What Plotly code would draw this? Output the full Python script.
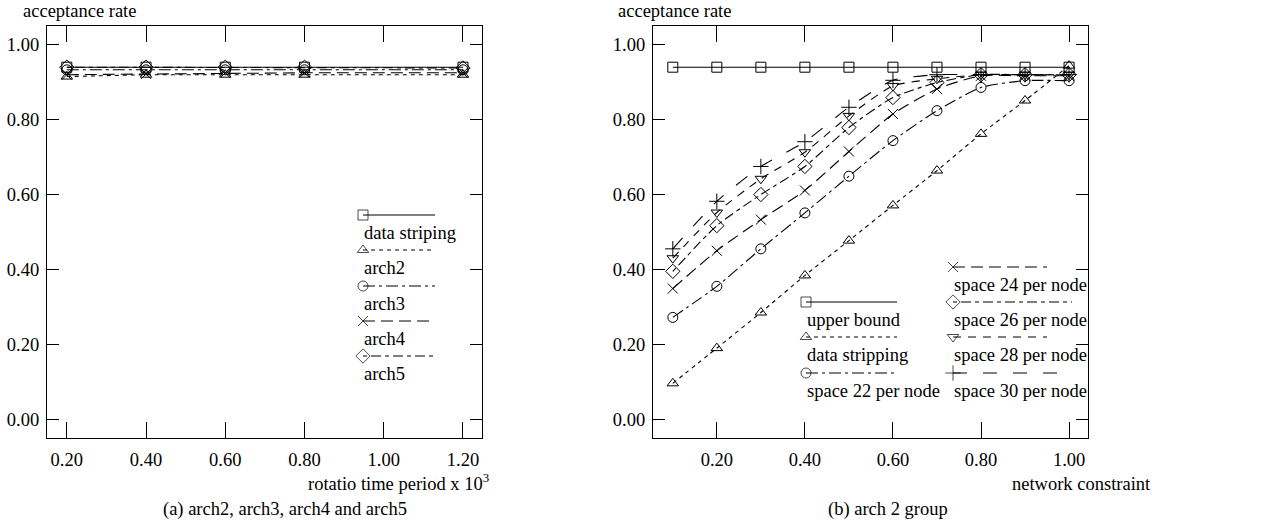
import plotly.graph_objects as go

# ---------------- data ----------------
# panel (a)
a_x = [0.2, 0.4, 0.6, 0.8, 1.2]
a_names = ["data striping", "arch2", "arch3", "arch4", "arch5"]
a_data_striping = [0.940, 0.940, 0.940, 0.940, 0.940]
a_arch2 = [0.915, 0.920, 0.920, 0.920, 0.920]
a_arch3 = [0.933, 0.933, 0.933, 0.933, 0.933]
a_arch4 = [0.920, 0.922, 0.925, 0.925, 0.925]
a_arch5 = [0.940, 0.940, 0.940, 0.940, 0.938]

# panel (b)
b_x = [0.1, 0.2, 0.3, 0.4, 0.5, 0.6, 0.7, 0.8, 0.9, 1.0]
b_names = ["upper bound", "data stripping", "space 22 per node",
           "space 24 per node", "space 26 per node", "space 28 per node",
           "space 30 per node"]
b_upper = [0.94, 0.94, 0.94, 0.94, 0.94, 0.94, 0.94, 0.94, 0.94, 0.94]
b_stripping = [0.096, 0.19, 0.285, 0.384, 0.477, 0.571, 0.664, 0.762, 0.851, 0.944]
b_space22 = [0.272, 0.355, 0.455, 0.551, 0.649, 0.744, 0.824, 0.886, 0.904, 0.904]
b_space24 = [0.349, 0.450, 0.533, 0.611, 0.715, 0.815, 0.882, 0.917, 0.917, 0.917]
b_space26 = [0.395, 0.517, 0.600, 0.675, 0.779, 0.859, 0.899, 0.920, 0.920, 0.920]
b_space28 = [0.430, 0.552, 0.642, 0.713, 0.810, 0.890, 0.909, 0.920, 0.920, 0.920]
b_space30 = [0.455, 0.582, 0.675, 0.741, 0.833, 0.905, 0.920, 0.920, 0.920, 0.920]

y_ticks = [0.0, 0.2, 0.4, 0.6, 0.8, 1.0]
a_ticks = [0.2, 0.4, 0.6, 0.8, 1.0, 1.2]
b_ticks = [0.2, 0.4, 0.6, 0.8, 1.0]

# ---------------- styles ----------------
FONT = "Liberation Serif, Times New Roman, serif"
FS = 18.5
W, H = 1288, 522

a_styles = [
    ("square-open", "solid"),
    ("triangle-up-open", "4px,4px"),
    ("circle-open", "12px,4px,3px,4px"),
    ("x-thin-open", "12px,6px"),
    ("diamond-open", "4px,4px,10px,4px"),
]
b_styles = [
    ("square-open", "solid"),
    ("triangle-up-open", "4px,4px"),
    ("circle-open", "12px,4px,3px,4px"),
    ("x-thin-open", "12px,6px"),
    ("diamond-open", "4px,4px,10px,4px"),
    ("triangle-down-open", "8px,7px"),
    ("cross-thin-open", "14px,16px"),
]
msize = {"square-open": 10, "triangle-up-open": 10, "circle-open": 10,
         "x-thin-open": 10, "diamond-open": 11, "triangle-down-open": 10,
         "cross-thin-open": 11}

fig = go.Figure()

a_series = [a_data_striping, a_arch2, a_arch3, a_arch4, a_arch5]
for name, ys, (sym, dash) in zip(a_names, a_series, a_styles):
    fig.add_trace(go.Scatter(
        x=a_x, y=ys, mode="lines+markers", name=name, showlegend=False,
        line=dict(color="black", width=1.1, dash=dash),
        marker=dict(symbol=sym, size=msize[sym], color="black",
                    line=dict(color="black", width=1)),
        xaxis="x", yaxis="y"))

b_series = [b_upper, b_stripping, b_space22, b_space24, b_space26, b_space28, b_space30]
for name, ys, (sym, dash) in zip(b_names, b_series, b_styles):
    fig.add_trace(go.Scatter(
        x=b_x, y=ys, mode="lines+markers", name=name, showlegend=False,
        line=dict(color="black", width=1.1, dash=dash, shape="spline", smoothing=0.6),
        marker=dict(symbol=sym, size=msize[sym], color="black",
                    line=dict(color="black", width=1)),
        xaxis="x2", yaxis="y2"))

# ---------------- custom legends (pixel overlay axis) ----------------
annotations = []

def legend_entry(x0, x1, y_line, y_text, sym, dash, text):
    fig.add_trace(go.Scatter(
        x=[x0, x1], y=[y_line, y_line], mode="lines+markers", showlegend=False,
        hoverinfo="skip",
        line=dict(color="black", width=1.1, dash=dash),
        marker=dict(symbol=sym, size=[msize[sym], 0], color="black",
                    line=dict(color="black", width=1)),
        xaxis="x3", yaxis="y3"))
    annotations.append(dict(x=x0 - 1, y=y_text, xref="x3", yref="y3", text=text,
                            showarrow=False, xanchor="left", yanchor="middle",
                            font=dict(family=FONT, size=FS, color="black")))

# panel (a) legend
a_leg_y = [215, 250, 286, 321, 356]
for i, (name, (sym, dash)) in enumerate(zip(a_names, a_styles)):
    legend_entry(363, 435, a_leg_y[i], a_leg_y[i] + 18, sym, dash, name)

# panel (b) legend: two columns
b_leg_pos = [(806, 897, 302), (806, 897, 337), (806, 897, 373),
             (953, 1047, 267), (953, 1072, 302), (953, 1047, 337), (953, 1072, 373)]
for (x0, x1, yl), name, (sym, dash) in zip(b_leg_pos, b_names, b_styles):
    legend_entry(x0, x1, yl, yl + 18, sym, dash, name)

# ---------------- text ----------------
def txt(x, y, s, anchor="left"):
    annotations.append(dict(x=x, y=y, xref="x3", yref="y3", text=s, showarrow=False,
                            xanchor=anchor, yanchor="middle",
                            font=dict(family=FONT, size=FS, color="black")))

txt(21, 11, "acceptance rate")
txt(616, 11, "acceptance rate")
txt(491, 482, "rotatio time period x 10<sup>3</sup>", anchor="right")
txt(1153, 484, "network constraint", anchor="right")
txt(285, 509, "(a) arch2, arch3, arch4 and arch5", anchor="center")
txt(888, 509, "(b) arch 2 group", anchor="center")

# ---------------- axes ----------------
ydom = [1 - 438 / H, 1 - 26 / H]
common = dict(showline=True, mirror="ticks", linecolor="black", linewidth=1.2,
              ticks="inside", tickcolor="black", tickwidth=1.2, showgrid=False,
              zeroline=False, tickfont=dict(family=FONT, size=FS, color="black"))

fig.update_layout(
    width=W, height=H,
    margin=dict(l=0, r=0, t=0, b=0),
    paper_bgcolor="white", plot_bgcolor="rgba(0,0,0,0)",
    xaxis=dict(domain=[47 / W, 482 / W], range=[0.15, 1.248], tickvals=a_ticks,
               tickformat=".2f", ticklen=16, ticklabelstandoff=5, anchor="y", **common),
    yaxis=dict(domain=ydom, range=[-0.05, 1.05], tickvals=y_ticks, tickformat=".2f",
               ticklen=12, ticklabelstandoff=3, anchor="x", **common),
    xaxis2=dict(domain=[653 / W, 1088 / W], range=[0.055, 1.043], tickvals=b_ticks,
                tickformat=".2f", ticklen=16, ticklabelstandoff=5, anchor="y2", **common),
    yaxis2=dict(domain=ydom, range=[-0.05, 1.05], tickvals=y_ticks, tickformat=".2f",
                ticklen=12, ticklabelstandoff=3, anchor="x2", **common),
    xaxis3=dict(domain=[0, 1], range=[0, W], visible=False, anchor="y3"),
    yaxis3=dict(domain=[0, 1], range=[H, 0], visible=False, anchor="x3"),
    annotations=annotations,
    showlegend=False,
)

fig.write_html("out.html", config={"displayModeBar": False},
               post_script="document.body.style.margin='0';document.body.style.overflow='hidden';")
